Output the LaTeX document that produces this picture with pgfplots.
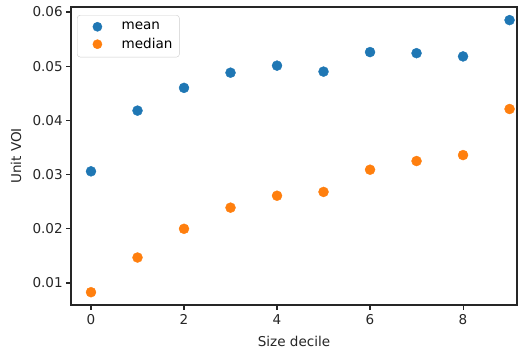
\documentclass[border=0pt]{standalone}
\usepackage{fontspec}
\setmainfont{DejaVu Sans}
\usepackage{pgfplots}
\pgfplotsset{compat=1.18}
\definecolor{mplblue}{HTML}{1F77B4}
\definecolor{mplorange}{HTML}{FF7F0E}
\begin{document}
\begin{tikzpicture}
\path[use as bounding box] (-71bp,-47bp) rectangle (456bp,305bp);
\begin{axis}[
  at={(0,0)}, anchor=south west,
  scale only axis, width=446bp, height=298bp,
  xmin=-0.43, xmax=9.16, ymin=0.00594, ymax=0.06092,
  xtick={0,2,4,6,8},
  ytick={0.01,0.02,0.03,0.04,0.05,0.06},
  yticklabel style={/pgf/number format/.cd,fixed,precision=2,fixed zerofill},
  scaled y ticks=false,
  /pgf/number format/assume math mode=true,
  tick style={black!85, line width=1.1bp},
  major tick length=4.8bp,
  tick align=outside,
  xtick pos=bottom, ytick pos=left,
  axis line style={line width=1.1bp, black!85},
  ticklabel style={font=\fontsize{13.6}{16}\selectfont, text=black!85},
  xticklabel style={yshift=-1bp},
  label style={font=\fontsize{13.6}{16}\selectfont, text=black!85},
  xlabel={Size decile}, ylabel={Unit VOI},
  xlabel style={at={(axis description cs:0.5,-0.1208)}, anchor=center},
  ylabel style={at={(axis description cs:-0.1233,0.5)}, anchor=center, rotate=0},
  legend style={at={(axis description cs:0.0135,0.973)}, anchor=north west,
    draw=black!20, rounded corners=3bp, font=\fontsize{13.6}{16}\selectfont,
    row sep=3bp, inner xsep=5bp, inner ysep=5bp,
    nodes={inner sep=2bp}},
  legend cell align=left,
  legend image code/.code={\path (0,0) (37bp,0); \fill[#1] (15bp,0) circle (4.6bp);},
]
\addplot[only marks, mark=*, mark size=5bp, mplblue, mark options={draw=mplblue, fill=mplblue}]
coordinates {(0,0.0306) (1,0.0418) (2,0.0460) (3,0.0488) (4,0.0501) (5,0.0490) (6,0.0526) (7,0.0524) (8,0.0518) (9,0.0585)};
\addlegendentry{mean}
\addplot[only marks, mark=*, mark size=5bp, mplorange, mark options={draw=mplorange, fill=mplorange}]
coordinates {(0,0.0083) (1,0.0147) (2,0.0200) (3,0.0239) (4,0.0261) (5,0.0268) (6,0.0309) (7,0.0325) (8,0.0336) (9,0.0421)};
\addlegendentry{median}
\end{axis}
\end{tikzpicture}
\end{document}
